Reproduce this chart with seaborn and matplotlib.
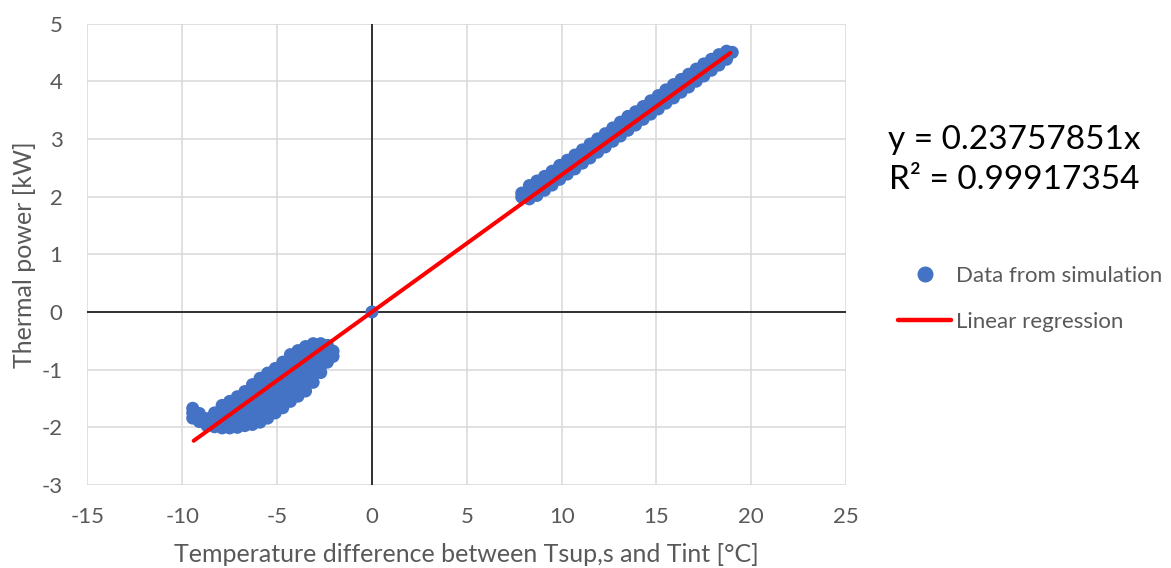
import matplotlib
matplotlib.use("Agg")
import matplotlib.pyplot as plt
import seaborn as sns
import pandas as pd
from matplotlib.lines import Line2D

# Simulated thermal power vs. supply/indoor temperature difference
# Cooling branch: each temperature step holds the spread of simulated powers
cooling = {
    -9.45: [-1.84, -1.75, -1.67],
    -9.10: [-1.90, -1.83, -1.76],
    -8.70: [-1.97, -1.91, -1.85],
    -8.30: [-1.99, -1.87, -1.75],
    -7.90: [-2.01, -1.90, -1.79, -1.70, -1.62],
    -7.50: [-2.01, -1.89, -1.78, -1.66, -1.55],
    -7.10: [-2.00, -1.88, -1.76, -1.64, -1.55, -1.47],
    -6.70: [-1.97, -1.85, -1.73, -1.61, -1.49, -1.38],
    -6.30: [-1.95, -1.83, -1.71, -1.59, -1.47, -1.36, -1.26],
    -5.90: [-1.91, -1.79, -1.67, -1.55, -1.43, -1.31, -1.22, -1.15],
    -5.50: [-1.84, -1.72, -1.60, -1.48, -1.36, -1.25, -1.15, -1.06],
    -5.10: [-1.75, -1.63, -1.51, -1.39, -1.27, -1.16, -1.06, -0.98],
    -4.70: [-1.66, -1.54, -1.42, -1.30, -1.18, -1.07, -0.97, -0.87],
    -4.30: [-1.55, -1.43, -1.31, -1.19, -1.07, -0.96, -0.85, -0.74],
    -3.90: [-1.46, -1.34, -1.22, -1.10, -0.99, -0.88, -0.77, -0.67],
    -3.50: [-1.37, -1.25, -1.13, -1.01, -0.90, -0.79, -0.69, -0.60],
    -3.10: [-1.22, -1.10, -0.98, -0.87, -0.76, -0.65, -0.55],
    -2.70: [-1.05, -0.94, -0.84, -0.74, -0.64, -0.55],
    -2.35: [-0.87, -0.77, -0.67, -0.58],
    -2.05: [-0.77, -0.68],
}

# Heating branch
heating = {
    7.9: [1.99, 2.06],
    8.3: [1.96, 2.07, 2.19],
    8.7: [2.02, 2.14, 2.27],
    9.1: [2.11, 2.23, 2.35],
    9.5: [2.20, 2.32, 2.44],
    9.9: [2.30, 2.42, 2.54],
    10.3: [2.39, 2.51, 2.63],
    10.7: [2.48, 2.61, 2.72],
    11.1: [2.58, 2.70, 2.81],
    11.5: [2.67, 2.79, 2.91],
    11.9: [2.77, 2.89, 3.00],
    12.3: [2.86, 2.98, 3.09],
    12.7: [2.96, 3.08, 3.19],
    13.1: [3.05, 3.17, 3.29],
    13.5: [3.15, 3.27, 3.39],
    13.9: [3.24, 3.36, 3.47],
    14.3: [3.34, 3.45, 3.56],
    14.7: [3.43, 3.55, 3.66],
    15.1: [3.52, 3.64, 3.75],
    15.5: [3.62, 3.73, 3.85],
    15.9: [3.71, 3.83, 3.94],
    16.3: [3.81, 3.92, 4.03],
    16.7: [3.90, 4.01, 4.12],
    17.1: [4.00, 4.11, 4.21],
    17.5: [4.09, 4.20, 4.30],
    17.9: [4.19, 4.29, 4.38],
    18.3: [4.28, 4.38, 4.46],
    18.7: [4.38, 4.47, 4.52],
    19.0: [4.50],
}

# Idle state
idle = {0.0: [0.0]}

# Regression through the origin
slope = 0.23757851
r_squared = 0.99917354
fit_x = [-9.4, 18.9]

x_ticks = [-15, -10, -5, 0, 5, 10, 15, 20, 25]
y_ticks = [-3, -2, -1, 0, 1, 2, 3, 4, 5]

rows = []
for branch in (cooling, idle, heating):
    for dt, powers in branch.items():
        for p in powers:
            rows.append((dt, p))
sim = pd.DataFrame(rows, columns=["dt", "power"])
fit = pd.DataFrame({"dt": fit_x, "power": [slope * v for v in fit_x]})

sns.set_theme(style="white")
plt.rcParams["font.family"] = ["Lato", "DejaVu Sans"]

grey = "#595959"
blue = "#4472C4"
red = "#FF0000"

fig = plt.figure(figsize=(11.71, 5.68), dpi=100)
ax = fig.add_axes([0.0747, 0.1461, 0.6478, 0.8125])

ax.set_xlim(-15, 25)
ax.set_ylim(-3, 5)
ax.set_xticks(x_ticks)
ax.set_yticks(y_ticks)
ax.grid(True, color="#D9D9D9", linewidth=1.1)
ax.set_axisbelow(True)
for s in ax.spines.values():
    s.set_visible(False)

ax.axhline(0, color="black", linewidth=1.1, zorder=1.5)
ax.axvline(0, color="black", linewidth=1.1, zorder=1.5)

sns.scatterplot(data=sim, x="dt", y="power", ax=ax, color=blue, s=88,
                edgecolor="none", linewidth=0, zorder=3, legend=False)
sns.lineplot(data=fit, x="dt", y="power", ax=ax, color=red, linewidth=2.9,
             zorder=4, legend=False)

ax.tick_params(axis="both", length=0, labelsize=16, labelcolor=grey)
ax.tick_params(axis="y", pad=18)
ax.tick_params(axis="x", pad=16)
ax.set_xticklabels([str(t) for t in x_ticks])
ax.set_yticklabels([str(t) for t in y_ticks])

ax.set_xlabel("Temperature difference between Tsup,s and Tint [°C]",
              fontsize=18, color=grey, labelpad=11)
ax.set_ylabel("Thermal power [kW]", fontsize=18, color=grey, labelpad=4)

fig.text(0.866, 0.718, f"y = {slope:.8f}x\nR² = {r_squared:.8f}",
         ha="center", va="center", fontsize=24, color="black",
         linespacing=1.42)

handles = [
    Line2D([], [], marker="o", linestyle="none", markersize=10.5,
           markerfacecolor=blue, markeredgecolor=blue),
    Line2D([], [], color=red, linewidth=3.2),
]
fig.legend(handles, ["Data from simulation", "Linear regression"],
           loc="center left", bbox_to_anchor=(0.7669, 0.4736), frameon=False,
           fontsize=16, labelcolor=grey, handlelength=2.4,
           handletextpad=0.22, labelspacing=1.15, borderaxespad=0,
           borderpad=0)

fig.savefig("out.png", dpi=100)
